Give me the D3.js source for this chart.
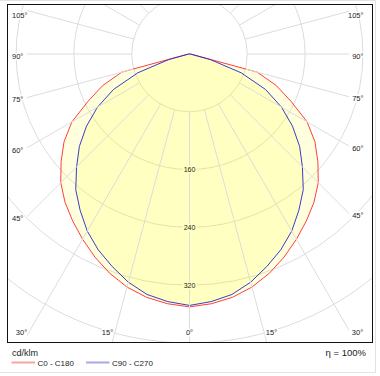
<!DOCTYPE html>
<html>
<head>
<meta charset="utf-8">
<script src="https://cdn.jsdelivr.net/npm/d3@7"></script>
<style>
  body { margin: 0; background: #fff; }
  text { font-family: "Liberation Sans", Arial, sans-serif; fill: #222; }
</style>
</head>
<body>
<div id="chart"></div>
<script>
// gamma angles (deg from nadir) and intensities in cd/klm
const gammaAngles = [0, 5, 10, 15, 20, 25, 30, 35, 40, 45, 50, 55, 60, 65, 70, 75, 80, 85, 90];
const c0c180 = [350, 347, 342, 334, 323, 310, 296, 282, 268, 252, 232, 212, 188, 155, 128, 97, 4, 1, 0];
const c90c270 = [348, 344, 338, 327, 313, 299, 283, 264, 245, 221, 199, 174, 147, 116, 76, 30, 3, 1, 0];

const ringValues = [80, 160, 240, 320, 400];
const ringLabels = [160, 240, 320];
const angleLabels = [0, 15, 30, 45, 60, 75, 90, 105];

const width = 380, height = 376;
const frame = { x: 7.5, y: 4.5, w: 365, h: 338 };
const cx = 189.5, cy = 54;

const svg = d3.select("#chart").append("svg")
    .attr("width", width)
    .attr("height", height);

// light outer border
svg.append("path")
    .attr("d", `M0,0.5 H375.5 V372.5 H0`)
    .attr("fill", "none")
    .attr("stroke", "#e2e2e2");

const defs = svg.append("defs");
defs.append("clipPath").attr("id", "frameClip")
    .append("rect")
    .attr("x", frame.x).attr("y", frame.y)
    .attr("width", frame.w).attr("height", frame.h);
defs.append("clipPath").attr("id", "spokeClip")
    .append("rect")
    .attr("x", 27).attr("y", frame.y)
    .attr("width", 349 - 27).attr("height", frame.h);

const r = d3.scaleLinear().domain([0, 400]).range([0, 289]);

const plot = svg.append("g").attr("clip-path", "url(#frameClip)");
const g = plot.append("g").attr("transform", `translate(${cx},${cy})`);

// rings
g.selectAll("circle.ring")
    .data(ringValues)
    .enter().append("circle")
    .attr("class", "ring")
    .attr("r", d => r(d))
    .attr("fill", "none")
    .attr("stroke", "#dcdcdc")
    .attr("stroke-width", 1);

// spokes every 15 degrees, starting at the first ring
const spokes = svg.append("g").attr("clip-path", "url(#spokeClip)")
    .append("g").attr("transform", `translate(${cx},${cy})`);
spokes.selectAll("line")
    .data(d3.range(0, 360, 15))
    .enter().append("line")
    .attr("x1", d => r(80) * Math.sin(d * Math.PI / 180))
    .attr("y1", d => r(80) * Math.cos(d * Math.PI / 180))
    .attr("x2", d => 600 * Math.sin(d * Math.PI / 180))
    .attr("y2", d => 600 * Math.cos(d * Math.PI / 180))
    .attr("stroke", "#dcdcdc")
    .attr("stroke-width", 1);

// build closed curve: signed gamma, right side positive
function curvePoints(values) {
    const pts = [];
    for (let i = gammaAngles.length - 1; i > 0; i--) pts.push([-gammaAngles[i], values[i]]);
    for (let i = 0; i < gammaAngles.length; i++) pts.push([gammaAngles[i], values[i]]);
    return pts;
}
const radial = d3.lineRadial()
    .angle(d => Math.PI - d[0] * Math.PI / 180)
    .radius(d => r(d[1]))
    .curve(d3.curveLinearClosed);

const curves = [
    { values: c0c180, color: "#ff2a2a" },
    { values: c90c270, color: "#2626c8" }
];

const curveG = plot.append("g").attr("transform", `translate(${cx},${cy})`);
curves.forEach(c => {
    curveG.append("path")
        .attr("d", radial(curvePoints(c.values)))
        .attr("fill", "#ffff00")
        .attr("fill-opacity", 0.13)
        .attr("stroke", "none");
});
curves.forEach(c => {
    curveG.append("path")
        .attr("d", radial(curvePoints(c.values)))
        .attr("fill", "none")
        .attr("stroke", c.color)
        .attr("stroke-width", 1)
        .attr("stroke-opacity", 0.9);
});

// ring labels on the nadir axis
svg.append("g").selectAll("text")
    .data(ringLabels)
    .enter().append("text")
    .attr("x", cx)
    .attr("y", d => cy + r(d) + 2.5)
    .attr("text-anchor", "middle")
    .style("font-size", "7px")
    .style("paint-order", "stroke")
    .style("stroke", "#ffffc2")
    .style("stroke-width", 3)
    .text(d => d);

// angle labels, both sides
const labelG = svg.append("g");
angleLabels.forEach(a => {
    [-1, 1].forEach(side => {
        if (a === 0 && side === 1) return;
        const rad = a * Math.PI / 180;
        let x, y, anchor = "middle";
        if (a <= 30) {
            // bottom edge
            const yy = 332;
            const xx = cx + side * (yy - cy) * Math.tan(rad);
            x = a === 0 ? cx : xx + side * 7.5;
            y = yy + 2.7;
        } else {
            const xx = side < 0 ? 27 : 349;
            let yy = cy + Math.abs(xx - cx) / Math.tan(rad);
            yy = Math.max(yy + 2, 15.5);
            x = side < 0 ? 12 : 363.5;
            anchor = side < 0 ? "start" : "end";
            y = yy + 2.7;
        }
        labelG.append("text")
            .attr("x", x)
            .attr("y", y)
            .attr("text-anchor", anchor)
            .style("font-size", "7.5px")
            .style("paint-order", "stroke")
            .style("stroke", "#fff")
            .style("stroke-width", 3)
            .text(a + "°");
    });
});

// frame
svg.append("rect")
    .attr("x", frame.x).attr("y", frame.y)
    .attr("width", frame.w).attr("height", frame.h)
    .attr("fill", "none")
    .attr("stroke", "#111")
    .attr("stroke-width", 1);

// unit and legend
svg.append("text")
    .attr("x", 12).attr("y", 356)
    .style("font-size", "9px")
    .text("cd/klm");

const legend = [
    { label: "C0 - C180", color: "#f4a4a4", x: 11.5 },
    { label: "C90 - C270", color: "#a8a8e8", x: 86 }
];
legend.forEach(l => {
    svg.append("line")
        .attr("x1", l.x).attr("x2", l.x + 23.5)
        .attr("y1", 362.5).attr("y2", 362.5)
        .attr("stroke", l.color)
        .attr("stroke-width", 2);
    svg.append("text")
        .attr("x", l.x + 26).attr("y", 365.8)
        .style("font-size", "8px")
        .text(l.label);
});

svg.append("text")
    .attr("x", 366).attr("y", 356)
    .attr("text-anchor", "end")
    .style("font-size", "9.5px")
    .text("η = 100%");
</script>
</body>
</html>
